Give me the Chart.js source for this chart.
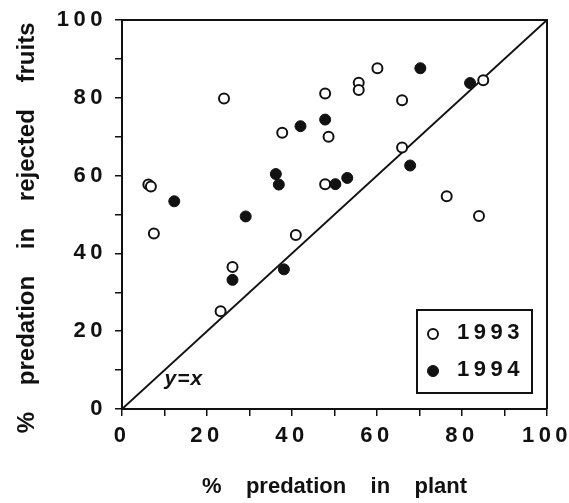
<!DOCTYPE html>
<html>
<head>
<meta charset="utf-8">
<script src="https://cdn.jsdelivr.net/npm/chart.js@4/dist/chart.umd.min.js"></script>
<style>
  html, body { margin: 0; padding: 0; background: #fff; }
  #wrap { width: 569px; height: 503px; }
</style>
</head>
<body>
<div id="wrap"><canvas id="c" width="569" height="503"></canvas></div>
<script>
// ---- data ----
const x1993 = [6.2, 6.8, 7.5, 24.0, 23.2, 26.0, 37.7, 40.9, 47.8, 48.6, 47.8, 55.7, 55.7, 60.1, 65.9, 65.9, 76.4, 84.0, 85.0];
const y1993 = [57.7, 57.2, 45.1, 79.8, 25.1, 36.5, 71.0, 44.7, 81.1, 70.0, 57.8, 83.9, 82.0, 87.6, 79.4, 67.2, 54.7, 49.6, 84.5];
const x1994 = [12.3, 29.1, 26.0, 36.2, 36.9, 38.1, 42.0, 47.8, 50.2, 53.0, 67.8, 70.2, 81.9];
const y1994 = [53.4, 49.5, 33.2, 60.4, 57.7, 35.9, 72.7, 74.4, 57.8, 59.4, 62.6, 87.6, 83.8];
const diagX = [0, 100];
const diagY = [0, 100];
const seriesLabels = ['1993', '1994'];
const xTitle = '%    predation    in    plant';
const yTitle = '%    predation    in    rejected    fruits    ';
const lineLabel = 'y=x';
const lineLabelPos = [10, 6.2];

const toPts = (xs, ys) => xs.map((x, i) => ({ x: x, y: ys[i] }));

const FONT = "'Liberation Sans', Arial, Helvetica, sans-serif";
const INK = '#111';

const spacingPlugin = {
  id: 'spacing',
  beforeDraw(chart) {
    for (const s of Object.values(chart.scales)) {
      if (s.__ls) continue;
      s.__ls = true;
      const orig = s.drawLabels;
      s.drawLabels = function (area) {
        const c = this.ctx;
        c.save();
        c.letterSpacing = '4.5px';
        orig.call(this, area);
        c.restore();
      };
    }
  }
};

const framePlugin = {
  id: 'frame',
  afterDatasetsDraw(chart) {
    const { ctx, chartArea: a, scales } = chart;
    ctx.save();
    ctx.strokeStyle = INK;
    ctx.lineWidth = 2;
    ctx.beginPath();
    ctx.moveTo(a.left, a.top);
    ctx.lineTo(a.right, a.top);
    ctx.lineTo(a.right, a.bottom);
    ctx.stroke();

    // y=x label
    ctx.fillStyle = INK;
    ctx.font = "italic bold 21px " + FONT;
    ctx.letterSpacing = '1px';
    ctx.textAlign = 'left';
    ctx.textBaseline = 'alphabetic';
    ctx.fillText(lineLabel, scales.x.getPixelForValue(lineLabelPos[0]), scales.y.getPixelForValue(lineLabelPos[1]));
    ctx.restore();

    // legend box (bottom-right inside plot)
    ctx.save();
    const bw = 115, bh = 83;
    const bx = a.right - 15 - bw, by = a.bottom - 16 - bh;
    ctx.fillStyle = '#fff';
    ctx.fillRect(bx, by, bw, bh);
    ctx.strokeStyle = INK;
    ctx.lineWidth = 2;
    ctx.strokeRect(bx, by, bw, bh);
    const rows = [by + 24, by + 61];
    chart.data.datasets.slice(0, 2).forEach((ds, i) => {
      const cy = rows[i];
      ctx.beginPath();
      ctx.arc(bx + 16, cy, ds.pointRadius, 0, Math.PI * 2);
      ctx.fillStyle = ds.pointBackgroundColor;
      ctx.fill();
      ctx.lineWidth = ds.pointBorderWidth;
      ctx.strokeStyle = INK;
      ctx.stroke();
      ctx.fillStyle = INK;
      ctx.font = "bold 22px " + FONT;
      ctx.letterSpacing = '4.5px';
      ctx.textAlign = 'left';
      ctx.textBaseline = 'middle';
      ctx.fillText(ds.label, bx + 40, cy - 1);
    });
    ctx.restore();
  }
};

const tickFont = { family: FONT, size: 22, weight: 'bold' };

new Chart(document.getElementById('c'), {
  type: 'scatter',
  data: {
    datasets: [
      {
        label: seriesLabels[0],
        data: toPts(x1993, y1993),
        pointRadius: 5,
        pointBorderWidth: 2,
        pointBackgroundColor: '#fff',
        pointBorderColor: INK,
        order: 1
      },
      {
        label: seriesLabels[1],
        data: toPts(x1994, y1994),
        pointRadius: 5.5,
        pointBorderWidth: 1,
        pointBackgroundColor: INK,
        pointBorderColor: INK,
        order: 0
      },
      {
        type: 'line',
        label: lineLabel,
        data: toPts(diagX, diagY),
        borderColor: INK,
        borderWidth: 2,
        pointRadius: 0,
        fill: false,
        order: 5
      }
    ]
  },
  options: {
    responsive: false,
    animation: false,
    devicePixelRatio: 1,
    layout: { padding: { top: 20, right: 22, left: 0, bottom: 0 } },
    plugins: { legend: { display: false }, tooltip: { enabled: false } },
    scales: {
      x: {
        type: 'linear',
        min: 0, max: 100,
        afterFit(s) { s.height = 94; s.paddingLeft = 0; s.paddingRight = 0; },
        border: { display: true, color: INK, width: 2 },
        grid: { drawOnChartArea: false, drawTicks: true, tickLength: 7, color: INK, lineWidth: 1.5 },
        ticks: {
          stepSize: 10, autoSkip: false, maxRotation: 0, padding: 7,
          color: INK, font: tickFont,
          callback: v => (v % 20 === 0 ? String(v) : '')
        },
        title: { display: true, text: xTitle, color: INK, font: { family: FONT, size: 22, weight: 'bold' }, padding: { top: 0, bottom: 3 } }
      },
      y: {
        type: 'linear',
        min: 0, max: 100,
        afterFit(s) { s.width = 122; s.paddingTop = 0; s.paddingBottom = 0; },
        border: { display: true, color: INK, width: 2 },
        grid: { drawOnChartArea: false, drawTicks: true, tickLength: 7, color: INK, lineWidth: 1.5 },
        ticks: {
          stepSize: 10, autoSkip: false, padding: 8,
          color: INK, font: tickFont,
          callback: v => (v % 20 === 0 ? String(v) : '')
        },
        title: { display: true, text: yTitle, color: INK, font: { family: FONT, size: 24, weight: 'bold' }, padding: { top: 13, bottom: 0 } }
      }
    }
  },
  plugins: [spacingPlugin, framePlugin]
});
</script>
</body>
</html>
